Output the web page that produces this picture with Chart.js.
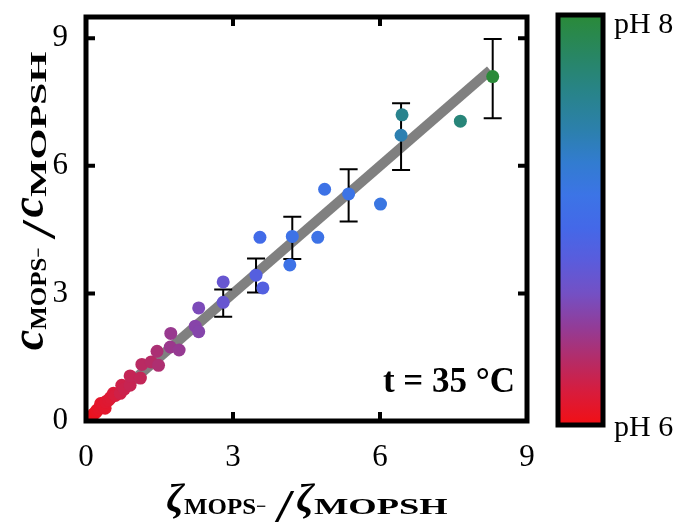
<!DOCTYPE html>
<html lang="en">
<head>
  <meta charset="UTF-8">
  <title>MOPS ratio at 35 °C</title>
  <script src="https://cdn.jsdelivr.net/npm/chart.js"></script>
  <style>
    html, body { margin: 0; padding: 0; background: #fff; }
    canvas { display: block; }
  </style>
</head>
<body>
  <canvas id="ratioChart" width="685" height="522"></canvas>

  <script>
    // measured points (zeta ratio vs concentration ratio) and their pH
    const ratioX = [0.04, 0.07, 0.10, 0.13, 0.16, 0.20, 0.22, 0.26, 0.29, 0.30, 0.35, 0.39, 0.40, 0.46, 0.50,
                    0.56, 0.60, 0.70, 0.73, 0.78, 0.90, 0.90, 1.11, 1.14, 1.33, 1.48, 1.45, 1.72, 1.73, 1.90,
                    2.23, 2.30, 2.30, 2.80, 2.80, 3.47, 3.61, 3.55, 4.16, 4.21, 4.73, 4.87, 5.36, 6.01, 6.43,
                    6.45, 7.64, 8.30];
    const ratioY = [0.03, 0.07, 0.10, 0.12, 0.17, 0.20, 0.25, 0.28, 0.33, 0.41, 0.36, 0.30, 0.45, 0.49, 0.55,
                    0.65, 0.60, 0.65, 0.84, 0.75, 0.84, 1.06, 1.01, 1.33, 1.39, 1.31, 1.64, 1.74, 2.06, 1.67,
                    2.23, 2.10, 2.66, 3.27, 2.79, 3.43, 3.13, 4.32, 3.67, 4.34, 4.32, 5.45, 5.34, 5.10, 6.72,
                    7.20, 7.05, 8.10];
    const phValues = [6.00, 6.01, 6.02, 6.03, 6.04, 6.05, 6.06, 6.07, 6.08, 6.09, 6.10, 6.10, 6.11, 6.12, 6.13,
                      6.15, 6.16, 6.20, 6.21, 6.22, 6.24, 6.25, 6.26, 6.30, 6.31, 6.35, 6.36, 6.44, 6.45, 6.46,
                      6.54, 6.55, 6.60, 6.72, 6.72, 6.84, 6.85, 7.00, 7.10, 7.10, 7.10, 7.10, 7.12, 7.16, 7.42,
                      7.60, 7.70, 8.00];

    // error bars
    const errX = [2.80, 3.47, 4.21, 5.36, 6.43, 8.30];
    const errLow = [2.45, 3.02, 3.81, 4.69, 5.90, 7.12];
    const errHigh = [3.09, 3.82, 4.80, 5.92, 7.47, 8.98];

    // fitted line
    const fitX = [0, 8.25];
    const fitY = [0, 8.25];

    const xTicks = [0, 3, 6, 9];
    const yTicks = [0, 3, 6, 9];
    const phRange = [6, 8];

    const SERIF = "'Liberation Serif', 'DejaVu Serif', serif";

    // colour map, bottom (pH 6) to top (pH 8)
    const cmap = [
      [0.00, [242, 15, 20]],
      [0.08, [216, 28, 60]],
      [0.16, [180, 44, 104]],
      [0.24, [146, 60, 152]],
      [0.32, [116, 80, 196]],
      [0.40, [90, 92, 220]],
      [0.48, [68, 104, 232]],
      [0.56, [60, 116, 230]],
      [0.64, [50, 124, 208]],
      [0.72, [44, 128, 172]],
      [0.82, [40, 132, 134]],
      [0.90, [40, 134, 100]],
      [1.00, [42, 138, 56]]
    ];

    function colourAt(f) {
      f = Math.max(0, Math.min(1, f));
      for (let i = 1; i < cmap.length; i++) {
        if (f <= cmap[i][0]) {
          const a = cmap[i - 1], b = cmap[i];
          const t = (f - a[0]) / (b[0] - a[0]);
          const c = a[1].map((v, k) => Math.round(v + (b[1][k] - v) * t));
          return `rgb(${c[0]},${c[1]},${c[2]})`;
        }
      }
      return 'rgb(42,138,56)';
    }

    const points = ratioX.map((x, i) => ({ x: x, y: ratioY[i] }));
    const pointColours = phValues.map(p => colourAt((p - phRange[0]) / (phRange[1] - phRange[0])));

    // draws text made of several font runs, centred on (x, y)
    function drawRich(ctx, parts, x, y, rot) {
      ctx.save();
      ctx.translate(x, y);
      ctx.rotate(rot);
      ctx.fillStyle = '#000';
      ctx.textBaseline = 'alphabetic';
      ctx.textAlign = 'left';
      let total = 0;
      parts.forEach(p => {
        ctx.font = p.font;
        p.w = ctx.measureText(p.t).width * (p.sx || 1);
        total += p.w + (p.gap || 0);
      });
      let cx = -total / 2;
      parts.forEach(p => {
        ctx.font = p.font;
        ctx.save();
        ctx.translate(cx, p.dy || 0);
        ctx.scale(p.sx || 1, 1);
        ctx.fillText(p.t, 0, 0);
        ctx.restore();
        cx += p.w + (p.gap || 0);
      });
      ctx.restore();
    }

    function titleParts(sym, symFont, wideSub) {
      const sub = 'bold 24px ' + SERIF;
      return [
        { t: sym, font: symFont, dy: 0 },
        { t: 'MOPS', font: sub, dy: 3, sx: 1.04 },
        { t: '\u2212', font: 'bold 18px ' + SERIF, dy: 1, gap: 8 },
        { t: '/', font: '48px ' + SERIF, dy: 12, sx: 1.5, gap: 2 },
        { t: sym, font: symFont, dy: 0 },
        { t: 'MOPSH', font: sub, dy: 3, sx: wideSub }
      ];
    }

    const errorBars = {
      id: 'errorBars',
      afterDatasetDraw(chart, args) {
        if (args.index !== 0) return;
        const { ctx, scales: { x, y } } = chart;
        ctx.save();
        ctx.strokeStyle = '#000';
        ctx.lineWidth = 2;
        errX.forEach((v, i) => {
          const px = x.getPixelForValue(v);
          const top = y.getPixelForValue(errHigh[i]);
          const bot = y.getPixelForValue(errLow[i]);
          ctx.beginPath();
          ctx.moveTo(px, top); ctx.lineTo(px, bot);
          ctx.moveTo(px - 9, top); ctx.lineTo(px + 9, top);
          ctx.moveTo(px - 9, bot); ctx.lineTo(px + 9, bot);
          ctx.stroke();
        });
        ctx.restore();
      }
    };

    const decorations = {
      id: 'decorations',
      afterDraw(chart) {
        const { ctx, chartArea: a, scales: { x, y } } = chart;
        ctx.save();

        // frame
        ctx.strokeStyle = '#000';
        ctx.lineWidth = 5;
        ctx.strokeRect(a.left, a.top, a.right - a.left, a.bottom - a.top);

        // inner ticks on all four sides
        ctx.lineWidth = 4;
        ctx.beginPath();
        xTicks.forEach(v => {
          const px = x.getPixelForValue(v);
          ctx.moveTo(px, a.bottom); ctx.lineTo(px, a.bottom - 9);
          ctx.moveTo(px, a.top); ctx.lineTo(px, a.top + 9);
        });
        yTicks.forEach(v => {
          const py = y.getPixelForValue(v);
          ctx.moveTo(a.left, py); ctx.lineTo(a.left + 9, py);
          ctx.moveTo(a.right, py); ctx.lineTo(a.right - 9, py);
        });
        ctx.stroke();

        // colour bar
        const cb = { left: 558, right: 603, top: 15, bottom: 425 };
        const grad = ctx.createLinearGradient(0, cb.bottom, 0, cb.top);
        cmap.forEach(s => grad.addColorStop(s[0], `rgb(${s[1].join(',')})`));
        ctx.fillStyle = grad;
        ctx.fillRect(cb.left, cb.top, cb.right - cb.left, cb.bottom - cb.top);
        ctx.lineWidth = 5;
        ctx.strokeStyle = '#000';
        ctx.strokeRect(cb.left, cb.top, cb.right - cb.left, cb.bottom - cb.top);

        ctx.fillStyle = '#000';
        ctx.font = '30px ' + SERIF;
        ctx.textAlign = 'left';
        ctx.textBaseline = 'alphabetic';
        ctx.fillText('pH ' + phRange[1], 614, 33);
        ctx.fillText('pH ' + phRange[0], 614, 436);

        // temperature note
        ctx.font = 'bold 35px ' + SERIF;
        ctx.textAlign = 'right';
        ctx.fillText('t = 35 \u00B0C', 515, 392);

        // axis titles
        drawRich(ctx, titleParts('\u03B6', 'bold italic 40px ' + SERIF, 1.52), 307, 511, 0);
        drawRich(ctx, titleParts('c', 'bold italic 46px ' + SERIF, 1.65), 43, 201, -Math.PI / 2);

        ctx.restore();
      }
    };

    const noPad = s => { s.paddingTop = 0; s.paddingBottom = 0; s.paddingLeft = 0; s.paddingRight = 0; };

    new Chart(document.getElementById('ratioChart'), {
      data: {
        datasets: [
          {
            type: 'line',
            data: fitX.map((v, i) => ({ x: v, y: fitY[i] })),
            borderColor: '#808080',
            borderWidth: 10,
            borderCapStyle: 'butt',
            pointRadius: 0,
            order: 2
          },
          {
            type: 'scatter',
            data: points,
            backgroundColor: pointColours,
            borderWidth: 0,
            pointRadius: 6.5,
            order: 1
          }
        ]
      },
      options: {
        responsive: false,
        animation: false,
        layout: { padding: { left: 26, right: 158, top: 17, bottom: 56 } },
        plugins: { legend: { display: false }, tooltip: { enabled: false } },
        scales: {
          x: {
            type: 'linear',
            min: 0,
            max: 9,
            afterBuildTicks: s => { s.ticks = xTicks.map(v => ({ value: v })); },
            afterFit: s => { s.height = 45; noPad(s); },
            grid: { display: false, drawTicks: false },
            border: { display: false },
            ticks: { color: '#000', padding: 18, font: { family: SERIF, size: 31 } }
          },
          y: {
            type: 'linear',
            min: 0,
            max: 9.5,
            afterBuildTicks: s => { s.ticks = yTicks.map(v => ({ value: v })); },
            afterFit: s => { s.width = 60; noPad(s); },
            grid: { display: false, drawTicks: false },
            border: { display: false },
            ticks: { color: '#000', padding: 18, font: { family: SERIF, size: 31 } }
          }
        }
      },
      plugins: [errorBars, decorations]
    });
  </script>
</body>
</html>
